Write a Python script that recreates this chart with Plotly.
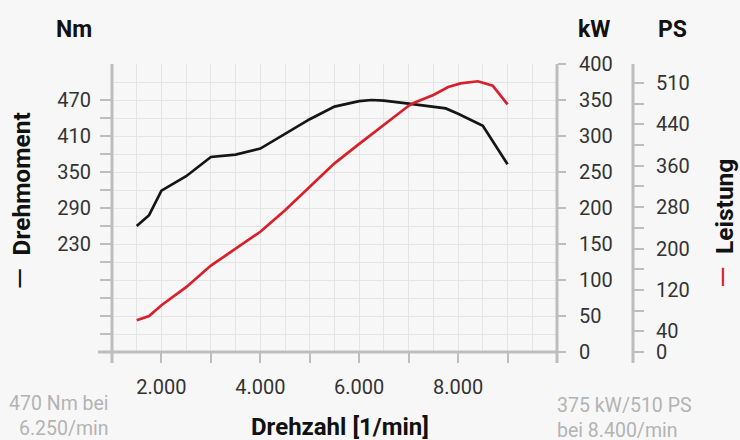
import plotly.graph_objects as go

# ---- data ----
rpm_torque = [1500, 1750, 2000, 2500, 3000, 3500, 4000, 4500, 5000, 5500, 6000, 6250, 6500, 7000, 7500, 7750, 8000, 8500, 9000]
torque_nm = [260, 278, 319, 343, 375, 379, 389, 413, 438, 459, 468, 470, 469, 464, 458, 456, 447, 427, 363]

rpm_power = [1500, 1750, 2000, 2500, 3000, 3500, 4000, 4500, 5000, 5500, 6000, 6500, 7000, 7100, 7500, 7800, 8050, 8400, 8700, 9000]
power_kw = [44, 50, 65, 90, 120, 143, 167, 197, 230, 262, 289, 316, 342, 346, 357, 368, 373, 376, 370, 344]

x_tick_vals = [1000, 2000, 3000, 4000, 5000, 6000, 7000, 8000, 9000]
x_tick_text = ["", "2.000", "", "4.000", "", "6.000", "", "8.000", ""]

nm_tick_vals = list(range(50, 471, 30))
nm_labels = {230: "230", 290: "290", 350: "350", 410: "410", 470: "470"}
nm_tick_text = [nm_labels.get(v, "") for v in nm_tick_vals]

kw_tick_vals = list(range(0, 401, 50))

ps_tick_vals = list(range(0, 521, 40))
ps_labels = {0: "0", 40: "40", 120: "120", 200: "200", 280: "280", 360: "360", 440: "440", 520: "510"}
ps_tick_text = [ps_labels.get(v, "") for v in ps_tick_vals]

# ---- geometry helpers (pixel -> paper) ----
W, H = 740, 440
ML, MR, MT, MB = 112, 107, 64, 88
PW, PH = W - ML - MR, H - MT - MB
def px(x):
    return (x - ML) / PW
def py(y):
    return 1 - (y - MT) / PH

FONT = "Roboto"
AXIS_GRAY = "#bdbdbd"
GRID = "#e4e4e4"
RED = "#d7202a"
LABEL = "#333333"
BG = "#f7f7f7"
xdom_end = px(557)

fig = go.Figure()
fig.add_trace(go.Scatter(x=rpm_torque, y=torque_nm, mode="lines", yaxis="y",
                         line=dict(color="#151515", width=2.7), hoverinfo="skip", showlegend=False))
fig.add_trace(go.Scatter(x=rpm_power, y=power_kw, mode="lines", yaxis="y2",
                         line=dict(color=RED, width=2.7), hoverinfo="skip", showlegend=False))
# invisible trace to instantiate PS axis
fig.add_trace(go.Scatter(x=[None], y=[None], yaxis="y3", showlegend=False, hoverinfo="skip"))

tickfont = dict(family=FONT, size=20, color=LABEL)

fig.update_layout(
    width=W, height=H,
    margin=dict(l=ML, r=MR, t=MT, b=MB, pad=0),
    paper_bgcolor=BG, plot_bgcolor=BG,
    showlegend=False,
    xaxis=dict(domain=[0, xdom_end], range=[1000, 10000], tickmode="array",
               tickvals=x_tick_vals, ticktext=x_tick_text, ticks="outside", ticklen=10,
               tickwidth=2, tickcolor=AXIS_GRAY, showline=False, zeroline=False,
               showgrid=True, gridcolor=GRID, gridwidth=1,
               minor=dict(dtick=500, tick0=1000, showgrid=True, gridcolor=GRID, gridwidth=1, ticks=""),
               tickfont=tickfont, ticklabelstandoff=7, fixedrange=True),
    yaxis=dict(range=[50, 530], side="left", anchor="x", tickmode="array",
               tickvals=nm_tick_vals, ticktext=nm_tick_text, ticks="outside", ticklen=11,
               tickwidth=2, tickcolor=AXIS_GRAY, showline=False, showgrid=False, zeroline=False,
               tickfont=tickfont, ticklabelstandoff=5),
    yaxis2=dict(range=[0, 400], overlaying="y", side="right", anchor="x", tickmode="array",
                tickvals=kw_tick_vals, ticks="outside", ticklen=8, tickwidth=2, tickcolor=AXIS_GRAY,
                showline=False, zeroline=False, showgrid=True, gridcolor=GRID, gridwidth=1,
                minor=dict(dtick=25, tick0=0, showgrid=True, gridcolor=GRID, gridwidth=1, ticks=""),
                tickfont=tickfont, ticklabelstandoff=9),
    yaxis3=dict(range=[0, 556.5], overlaying="y", side="right", anchor="free", position=1.0,
                tickmode="array", tickvals=ps_tick_vals, ticktext=ps_tick_text, ticks="outside",
                ticklen=10, tickwidth=2, tickcolor=AXIS_GRAY, showline=False, zeroline=False,
                showgrid=False, tickfont=tickfont, ticklabelstandoff=8),
)

# axis lines (extending past the plot corners like the original)
line_style = dict(color=AXIS_GRAY, width=3)
shapes = [
    dict(type="line", xref="paper", yref="paper", x0=px(98), x1=xdom_end, y0=0, y1=0, line=line_style),
    dict(type="line", xref="paper", yref="paper", x0=0, x1=0, y0=py(363), y1=1, line=line_style),
    dict(type="line", xref="paper", yref="paper", x0=xdom_end, x1=xdom_end, y0=py(363), y1=1, line=line_style),
    dict(type="line", xref="paper", yref="paper", x0=1, x1=1, y0=py(363), y1=1, line=line_style),
]
fig.update_layout(shapes=shapes)

def ann(text, x, y, size, color="#111111", xanchor="center", yanchor="middle", angle=0, align="center"):
    fig.add_annotation(text=text, xref="paper", yref="paper", x=px(x), y=py(y),
                       xanchor=xanchor, yanchor=yanchor, showarrow=False, textangle=angle,
                       align=align, font=dict(family=FONT, size=size, color=color))

DASH = '<span style="font-size:28px;color:%s">—</span>&nbsp;&nbsp;'
ann("<b>Nm</b>", 73.5, 30, 23)
ann("<b>kW</b>", 594, 30, 23)
ann("<b>PS</b>", 672, 30, 23)
ann(DASH % "#111111" + "<b>Drehmoment</b>", 19.5, 201, 24.5, angle=-90)
ann(DASH % RED + "<b>Leistung</b>", 723, 224, 24.5, angle=-90)
ann("<b>Drehzahl [1/min]</b>", 340, 427, 24)
ann("470 Nm bei<br>6.250/min", 111, 416, 19.5, color="#b3b3b3", xanchor="right", align="right")
ann("375 kW/510 PS<br>bei 8.400/min", 555, 418, 19.5, color="#b3b3b3", xanchor="left", align="left")

fig.write_html("out.html", config={"displayModeBar": False},
               post_script="document.body.style.margin='0px';document.body.style.background='%s';" % BG)
